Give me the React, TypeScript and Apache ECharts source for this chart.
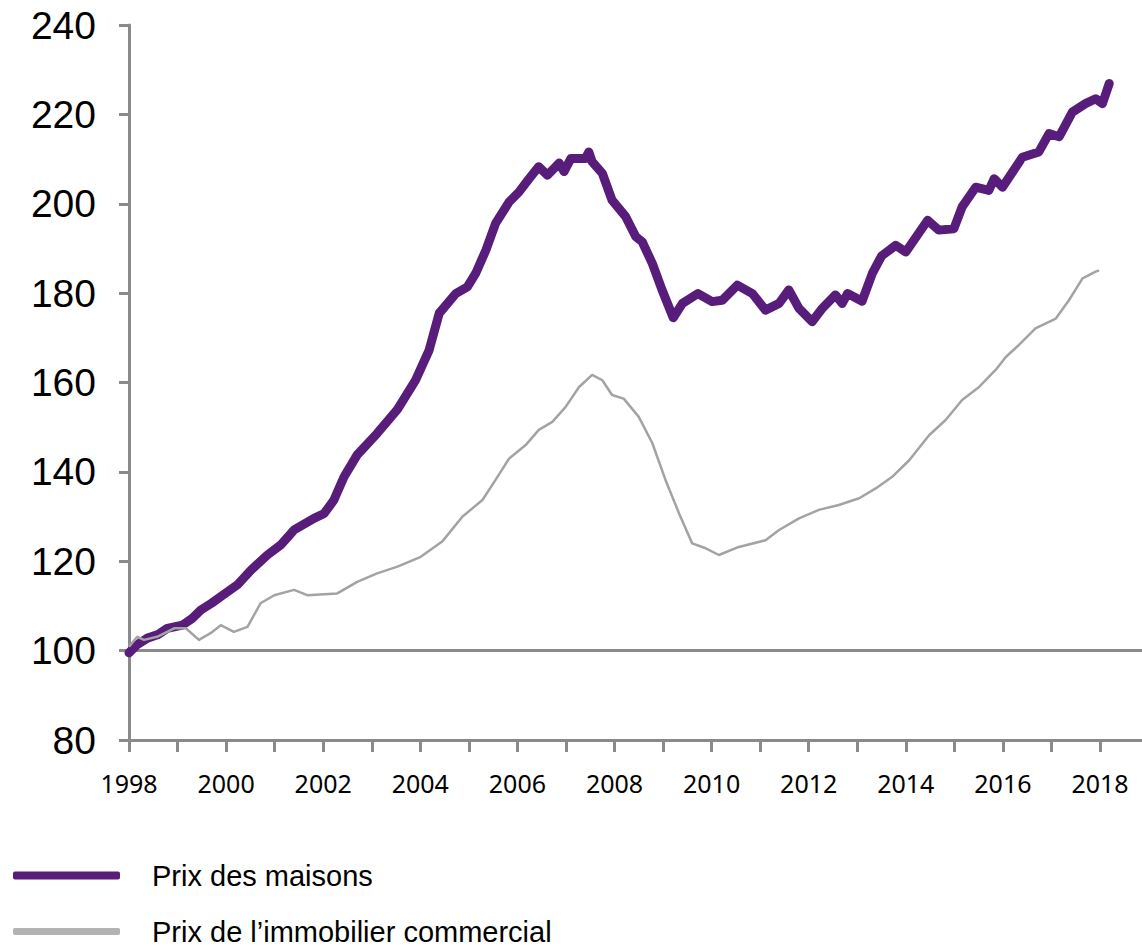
import React, { useEffect, useRef } from "react";
import * as echarts from "echarts";

const seriesNames = ["Prix des maisons", "Prix de l’immobilier commercial"];

const housePrices: [number, number][] = [
  [1998.0, 99.5], [1998.15, 101.2], [1998.38, 102.8], [1998.6, 103.6], [1998.79, 105.0],
  [1999.1, 105.7], [1999.3, 107.2], [1999.48, 109.1], [1999.7, 110.6], [1999.89, 112.1],
  [2000.23, 114.7], [2000.51, 118.0], [2000.85, 121.4], [2001.12, 123.6], [2001.4, 127.0],
  [2001.81, 129.6], [2002.02, 130.7], [2002.22, 133.7], [2002.43, 138.9], [2002.7, 143.8],
  [2003.11, 148.6], [2003.53, 154.0], [2003.9, 160.5], [2004.18, 167.2], [2004.39, 175.5],
  [2004.73, 179.9], [2004.97, 181.4], [2005.14, 184.4], [2005.35, 189.6], [2005.55, 195.6],
  [2005.83, 200.4], [2006.03, 202.6], [2006.24, 205.6], [2006.44, 208.3], [2006.62, 206.4],
  [2006.86, 209.1], [2006.96, 207.2], [2007.1, 210.1], [2007.4, 210.1], [2007.47, 211.6],
  [2007.54, 209.4], [2007.75, 206.8], [2007.95, 200.8], [2008.23, 197.1], [2008.44, 192.6],
  [2008.57, 191.5], [2008.78, 186.6], [2008.98, 180.7], [2009.21, 174.5], [2009.4, 177.7],
  [2009.72, 179.9], [2010.01, 178.1], [2010.22, 178.4], [2010.53, 181.8], [2010.84, 179.9],
  [2011.11, 176.2], [2011.39, 177.7], [2011.59, 180.7], [2011.8, 176.6], [2012.07, 173.6],
  [2012.28, 176.6], [2012.55, 179.6], [2012.69, 177.7], [2012.8, 179.9], [2013.1, 178.2],
  [2013.31, 184.4], [2013.5, 188.3], [2013.79, 190.7], [2014.0, 189.2], [2014.45, 196.3],
  [2014.68, 194.1], [2014.99, 194.4], [2015.16, 199.3], [2015.44, 203.7], [2015.71, 203.0],
  [2015.82, 205.6], [2015.99, 203.7], [2016.4, 210.4], [2016.74, 211.6], [2016.95, 215.7],
  [2017.16, 215.0], [2017.43, 220.5], [2017.7, 222.4], [2017.91, 223.5], [2018.05, 222.4],
  [2018.19, 226.9],
];

const commercialPrices: [number, number][] = [
  [1998.0, 100.9], [1998.17, 103.1], [1998.31, 102.4], [1998.58, 103.1], [1998.93, 105.0],
  [1999.17, 105.0], [1999.44, 102.4], [1999.68, 103.9], [1999.89, 105.7], [2000.16, 104.2],
  [2000.44, 105.3], [2000.71, 110.6], [2000.99, 112.4], [2001.4, 113.6], [2001.67, 112.4],
  [2002.29, 112.8], [2002.7, 115.4], [2003.11, 117.3], [2003.53, 118.8], [2004.01, 121.0],
  [2004.45, 124.4], [2004.87, 130.0], [2005.28, 133.7], [2005.55, 138.2], [2005.83, 143.0],
  [2006.17, 146.0], [2006.44, 149.4], [2006.72, 151.2], [2006.99, 154.5], [2007.27, 159.0],
  [2007.54, 161.7], [2007.75, 160.5], [2007.95, 157.2], [2008.19, 156.4], [2008.5, 152.3],
  [2008.78, 146.4], [2009.05, 138.2], [2009.33, 130.7], [2009.6, 124.0], [2009.88, 122.9],
  [2010.15, 121.4], [2010.56, 123.2], [2011.11, 124.7], [2011.39, 127.0], [2011.8, 129.6],
  [2012.21, 131.5], [2012.62, 132.6], [2013.04, 134.1], [2013.38, 136.3], [2013.72, 138.9],
  [2014.07, 142.6], [2014.48, 148.2], [2014.82, 151.6], [2015.16, 156.1], [2015.51, 159.0],
  [2015.85, 162.8], [2016.06, 165.7], [2016.33, 168.4], [2016.67, 172.1], [2017.09, 174.3],
  [2017.36, 178.4], [2017.64, 183.3], [2017.91, 184.8], [2017.98, 185.1],
];

const yearTicks = [
  1998, 1999, 2000, 2001, 2002, 2003, 2004, 2005, 2006, 2007, 2008,
  2009, 2010, 2011, 2012, 2013, 2014, 2015, 2016, 2017, 2018,
];
const yearLabels = [1998, 2000, 2002, 2004, 2006, 2008, 2010, 2012, 2014, 2016, 2018];
const baseValue = 100;

const PURPLE = "#581c7b";
const GREY = "#a3a3a3";
const AXIS = "#8a8a8a";

export default function App() {
  const ref = useRef<HTMLDivElement>(null);

  useEffect(() => {
    if (!ref.current) return;
    const chart = echarts.init(ref.current, null, { renderer: "svg" });
    chart.setOption({
      animation: false,
      backgroundColor: "#ffffff",
      grid: { left: 129, top: 25, width: 1013, height: 715, containLabel: false },
      legend: [
        {
          data: [{ name: seriesNames[0], icon: "roundRect" }],
          orient: "vertical",
          left: 13,
          top: 861,
          padding: 0,
          itemWidth: 107,
          itemHeight: 8,
          selectedMode: false,
          itemStyle: { color: PURPLE },
          textStyle: {
            fontFamily: "Liberation Sans",
            fontSize: 29,
            lineHeight: 28,
            color: "#000",
            padding: [0, 0, 0, 27],
          },
        },
        {
          data: [{ name: seriesNames[1], icon: "roundRect" }],
          orient: "vertical",
          left: 13,
          top: 917,
          padding: 0,
          itemWidth: 107,
          itemHeight: 7,
          selectedMode: false,
          itemStyle: { color: "#b3b3b3" },
          textStyle: {
            fontFamily: "Liberation Sans",
            fontSize: 29,
            lineHeight: 28,
            color: "#000",
            padding: [0, 0, 0, 27],
          },
        },
      ],
      xAxis: {
        type: "value",
        min: 1998,
        max: 2018.865,
        splitLine: { show: false },
        axisLine: { show: true, lineStyle: { color: AXIS, width: 3 } },
        axisTick: {
          show: true,
          length: 12,
          customValues: yearTicks,
          lineStyle: { color: AXIS, width: 3 },
        },
        axisLabel: {
          customValues: yearLabels,
          formatter: (v: number) => String(Math.round(v)),
          fontFamily: "Noto Sans",
          fontSize: 25,
          color: "#000",
          margin: 30,
        },
      },
      yAxis: {
        type: "value",
        min: 80,
        max: 240,
        interval: 20,
        splitLine: { show: false },
        axisLine: { show: true, lineStyle: { color: AXIS, width: 3 } },
        axisTick: { show: true, length: 10, lineStyle: { color: AXIS, width: 3 } },
        axisLabel: {
          fontFamily: "Liberation Sans",
          fontSize: 39,
          color: "#000",
          margin: 33,
        },
      },
      series: [
        {
          name: seriesNames[0],
          type: "line",
          data: housePrices,
          showSymbol: false,
          symbol: "none",
          lineStyle: { color: PURPLE, width: 9, cap: "round", join: "round" },
          itemStyle: { color: PURPLE },
          z: 3,
          markLine: {
            silent: true,
            symbol: "none",
            label: { show: false },
            lineStyle: { color: AXIS, width: 3, type: "solid" },
            data: [{ yAxis: baseValue }],
            z: 1,
          },
        },
        {
          name: seriesNames[1],
          type: "line",
          data: commercialPrices,
          showSymbol: false,
          symbol: "none",
          lineStyle: { color: GREY, width: 2.5, join: "round" },
          itemStyle: { color: GREY },
          z: 4,
        },
      ],
    });
    return () => chart.dispose();
  }, []);

  return (
    <div
      ref={ref}
      style={{ position: "fixed", left: 0, top: 0, width: 1142, height: 946 }}
    />
  );
}
